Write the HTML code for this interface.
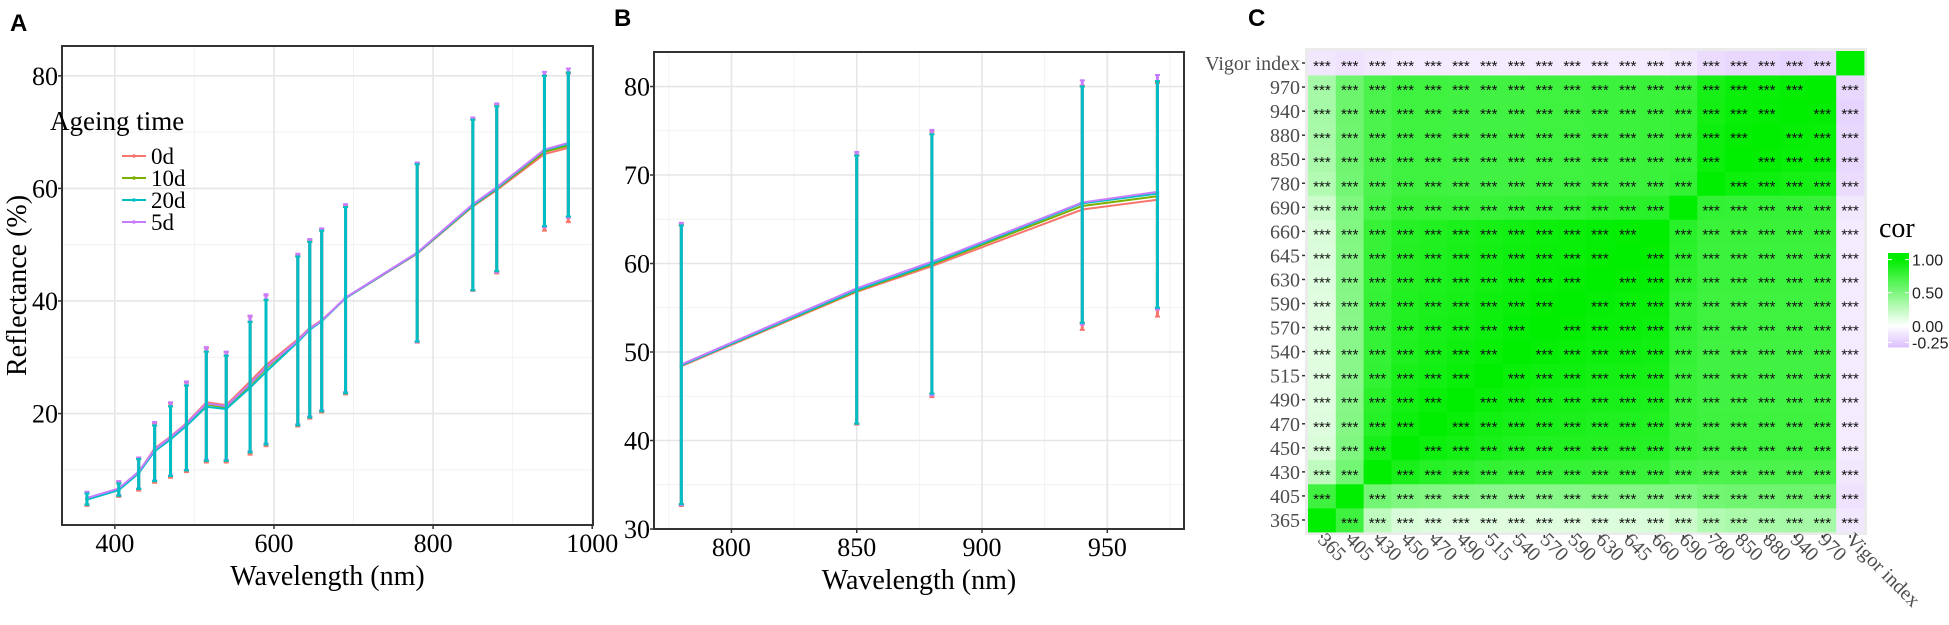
<!DOCTYPE html>
<html><head><meta charset="utf-8"><style>
body{margin:0;background:#fff;}
svg{display:block;font-family:"Liberation Serif",serif;}
</style></head><body>
<svg id="svg" width="1949" height="625" viewBox="0 0 1949 625" xmlns="http://www.w3.org/2000/svg">
<text x="10" y="31" font-family="Liberation Sans,sans-serif" font-weight="bold" font-size="24">A</text>
<text x="614" y="26" font-family="Liberation Sans,sans-serif" font-weight="bold" font-size="24">B</text>
<text x="1248" y="26" font-family="Liberation Sans,sans-serif" font-weight="bold" font-size="24">C</text>
<g id="pa"></g>
<g id="pb"></g>
<g id="pc"></g>
</svg>
<script>
const wavelengths=[365,405,430,450,470,490,515,540,570,590,630,645,660,690,780,850,880,940,970];
const seriesNames=["0d","10d","20d","5d"];
const mean0d =[4.9,6.6,9.6,13.8,15.9,18.3,22.0,21.5,25.7,28.6,33.2,35.2,36.6,40.5,48.4,56.8,59.7,66.1,67.2];
const mean10d=[4.8,6.5,9.5,13.5,15.6,18.0,21.6,21.1,25.1,28.0,32.9,35.0,36.4,40.5,48.5,56.9,59.9,66.5,67.6];
const mean20d=[4.7,6.4,9.4,13.3,15.4,17.8,21.2,20.8,24.6,27.4,32.7,34.9,36.4,40.5,48.5,57.0,60.0,66.8,67.9];
const mean5d =[5.0,6.7,9.7,13.6,15.8,18.2,21.8,21.3,25.3,28.2,33.0,35.1,36.5,40.6,48.6,57.2,60.2,66.9,68.1];
const upper20d=[5.8,7.6,11.9,17.9,21.3,25.0,31.0,30.3,36.3,40.2,47.9,50.5,52.5,56.7,64.3,72.2,74.6,80.0,80.6];
const lower20d=[3.8,5.4,6.6,8.0,8.9,9.9,11.6,11.6,13.1,14.5,17.9,19.3,20.4,23.6,32.8,41.9,45.3,53.3,55.0];
const upper0d=[6.0,7.9,12.1,18.3,21.8,25.5,31.6,30.9,37.2,41.0,48.2,50.8,52.7,56.9,64.4,72.3,74.9,80.1,80.4];
const lower0d=[3.6,5.2,6.3,7.7,8.6,9.6,11.3,11.3,12.7,14.2,17.7,19.1,20.2,23.4,32.6,41.8,44.9,52.5,54.0];
const upper5d=[6.1,8.0,12.2,18.5,22.0,25.7,31.8,31.0,37.4,41.2,48.4,51.0,52.9,57.2,64.6,72.6,75.1,80.7,81.3];
const lower5d=[3.9,5.5,6.7,8.1,9.0,10.0,11.8,11.8,13.3,14.7,18.1,19.5,20.6,23.8,32.7,41.9,45.1,53.1,54.8];
const axisATicksX=[400,600,800,1000];
const axisATicksY=[20,40,60,80];
const axisBTicksX=[800,850,900,950];
const axisBTicksY=[30,40,50,60,70,80];
const corLabels=["365","405","430","450","470","490","515","540","570","590","630","645","660","690","780","850","880","940","970","Vigor index"];
const cor365=[1,.75,.25,.15,.13,.12,.12,.12,.12,.12,.13,.14,.15,.2,.3,.33,.34,.35,.35,-.12];
const cor405=[.75,1,.55,.5,.48,.47,.46,.46,.46,.47,.48,.48,.49,.5,.55,.56,.56,.57,.57,-.15];
const cor430=[.25,.55,1,.9,.85,.83,.8,.79,.79,.79,.78,.78,.78,.72,.7,.7,.7,.7,.7,-.12];
const cor450=[.15,.5,.9,1,.95,.92,.9,.88,.87,.87,.86,.86,.85,.78,.75,.75,.75,.75,.75,-.1];
const cor470=[.13,.48,.85,.95,1,.96,.93,.91,.9,.89,.88,.88,.87,.78,.75,.75,.75,.75,.75,-.1];
const cor490=[.12,.47,.83,.92,.96,1,.96,.94,.92,.91,.9,.9,.89,.78,.74,.74,.74,.74,.74,-.1];
const cor515=[.12,.46,.8,.9,.93,.96,1,.97,.95,.94,.92,.92,.91,.78,.74,.74,.74,.74,.74,-.1];
const cor540=[.12,.46,.79,.88,.91,.94,.97,1,.98,.96,.95,.94,.93,.79,.74,.74,.74,.74,.74,-.1];
const cor570=[.12,.46,.79,.87,.9,.92,.95,.98,1,.99,.97,.96,.95,.8,.75,.75,.75,.75,.75,-.1];
const cor590=[.12,.47,.79,.87,.89,.91,.94,.96,.99,1,.98,.97,.96,.8,.75,.75,.75,.75,.75,-.1];
const cor630=[.13,.48,.78,.86,.88,.9,.92,.95,.97,.98,1,.99,.98,.82,.76,.76,.76,.76,.76,-.1];
const cor645=[.14,.48,.78,.86,.88,.9,.92,.94,.96,.97,.99,1,.99,.83,.76,.76,.76,.76,.76,-.1];
const cor660=[.15,.49,.78,.85,.87,.89,.91,.93,.95,.96,.98,.99,1,.84,.77,.77,.77,.77,.77,-.1];
const cor690=[.2,.5,.72,.78,.78,.78,.78,.79,.8,.8,.82,.83,.84,1,.8,.79,.79,.79,.78,-.12];
const cor780=[.3,.55,.7,.75,.75,.74,.74,.74,.75,.75,.76,.76,.77,.8,1,.95,.94,.92,.91,-.18];
const cor850=[.33,.56,.7,.75,.75,.74,.74,.74,.75,.75,.76,.76,.77,.79,.95,1,.99,.97,.96,-.2];
const cor880=[.34,.56,.7,.75,.75,.74,.74,.74,.75,.75,.76,.76,.77,.79,.94,.99,1,.98,.97,-.2];
const cor940=[.35,.57,.7,.75,.75,.74,.74,.74,.75,.75,.76,.76,.77,.79,.92,.97,.98,1,.99,-.22];
const cor970=[.35,.57,.7,.75,.75,.74,.74,.74,.75,.75,.76,.76,.77,.78,.91,.96,.97,.99,1,-.2];
const corVigor=[-.12,-.15,-.12,-.1,-.1,-.1,-.1,-.1,-.1,-.1,-.1,-.1,-.1,-.12,-.18,-.2,-.2,-.22,-.2,1];
const legendTicks=[1.00,0.50,0.00,-0.25];

const NS="http://www.w3.org/2000/svg";
function mk(parent,tag,attrs,txt){const e=document.createElementNS(NS,tag);for(const k in attrs)e.setAttribute(k,attrs[k]);if(txt!==undefined)e.textContent=txt;parent.appendChild(e);return e;}
const colors={"0d":"#F8766D","10d":"#7CAE00","20d":"#00BFC4","5d":"#C77CFF"};
const means={"0d":mean0d,"10d":mean10d,"20d":mean20d,"5d":mean5d};
const ups={"0d":upper0d,"10d":upper20d,"20d":upper20d,"5d":upper5d};
const lows={"0d":lower0d,"10d":lower20d,"20d":lower20d,"5d":lower5d};

function linePanel(g,box,xd,yd,xt,xminor,yt,yminor,filter,yTitle,prefix){
  const sx=v=>box.l+(v-xd[0])/(xd[1]-xd[0])*(box.r-box.l);
  const sy=v=>box.b-(v-yd[0])/(yd[1]-yd[0])*(box.b-box.t);
  const bg=mk(g,'rect',{x:box.l,y:box.t,width:box.r-box.l,height:box.b-box.t,fill:'#fff'});
  
  
  xminor.forEach(v=>mk(g,'line',{x1:sx(v),x2:sx(v),y1:box.t,y2:box.b,stroke:'#f2f2f2','stroke-width':1}));
  yminor.forEach(v=>mk(g,'line',{y1:sy(v),y2:sy(v),x1:box.l,x2:box.r,stroke:'#f2f2f2','stroke-width':1}));
  xt.forEach(v=>{
    mk(g,'line',{x1:sx(v),x2:sx(v),y1:box.t,y2:box.b,stroke:'#e6e6e6','stroke-width':1.6});
    mk(g,'line',{x1:sx(v),x2:sx(v),y1:box.b,y2:box.b+4,stroke:'#333','stroke-width':1.5});
    const t=mk(g,'text',{x:sx(v),y:box.b+27,'font-size':26,'text-anchor':'middle',fill:'#000'},String(v));
    
    
  });
  yt.forEach(v=>{
    mk(g,'line',{y1:sy(v),y2:sy(v),x1:box.l,x2:box.r,stroke:'#e6e6e6','stroke-width':1.6});
    mk(g,'line',{y1:sy(v),y2:sy(v),x1:box.l-4,x2:box.l,stroke:'#333','stroke-width':1.5});
    const t=mk(g,'text',{x:box.l-4,y:sy(v)+9,'font-size':26,'text-anchor':'end',fill:'#000'},String(v));
    
    
  });
  const idx=wavelengths.map((w,i)=>i).filter(i=>filter(wavelengths[i]));
  ["0d","10d","20d","5d"].forEach(s=>{
    const pts=idx.map(i=>sx(wavelengths[i])+','+sy(means[s][i])).join(' ');
    const pl=mk(g,'polyline',{points:pts,fill:'none',stroke:colors[s],'stroke-width':2});
    
    
  });
  ["0d","10d","5d","20d"].forEach(s=>{
    idx.forEach(i=>{
      const x=sx(wavelengths[i]);
      const eb=mk(g,'line',{x1:x,x2:x,y1:sy(ups[s][i]),y2:sy(lows[s][i]),stroke:colors[s],'stroke-width':3});
      
      
      mk(g,'line',{x1:x-2.5,x2:x+2.5,y1:sy(ups[s][i]),y2:sy(ups[s][i]),stroke:colors[s],'stroke-width':2});
      mk(g,'line',{x1:x-2.5,x2:x+2.5,y1:sy(lows[s][i]),y2:sy(lows[s][i]),stroke:colors[s],'stroke-width':2});
      mk(g,'circle',{cx:x,cy:sy(means[s][i]),r:1.8,fill:colors[s]});
    });
  });
  const fr=mk(g,'rect',{x:box.l,y:box.t,width:box.r-box.l,height:box.b-box.t,fill:'none',stroke:'#333','stroke-width':2});
  
  
  const xt2=mk(g,'text',{x:(box.l+box.r)/2,y:box.b+60,'font-size':28,'text-anchor':'middle'},'Wavelength (nm)');
  
  
  if(yTitle){
    const yt2=mk(g,'text',{x:0,y:0,'font-size':28,'text-anchor':'middle',transform:`translate(26,${(box.t+box.b)/2}) rotate(-90)`},yTitle);
    
    
  }
}
const pa=document.getElementById('pa');
linePanel(pa,{l:62,r:593,t:46,b:525},[333.6,1001],[0.2,85.3],axisATicksX,[500,700,900],axisATicksY,[10,30,50,70],()=>true,'Reflectance (%)','panel-a');
const lg=mk(pa,'g',{});


mk(lg,'text',{x:50,y:130,'font-size':27},'Ageing time');
seriesNames.forEach((s,i)=>{
  const y=156+i*22;
  const en=mk(lg,'g',{});
  
  
  mk(en,'line',{x1:122,x2:146,y1:y,y2:y,stroke:colors[s],'stroke-width':2});
  mk(en,'circle',{cx:134,cy:y,r:1.8,fill:colors[s]});
  mk(en,'text',{x:151,y:y+8,'font-size':23},s);
});
const pb=document.getElementById('pb');
linePanel(pb,{l:654,r:1184,t:52,b:529},[769.1,980.6],[30,83.9],axisBTicksX,[775,825,875,925,975],axisBTicksY,[35,45,55,65,75],w=>w>=780,null,'panel-b');

// heatmap
const pc=document.getElementById('pc');
const corRows=[cor365,cor405,cor430,cor450,cor470,cor490,cor515,cor540,cor570,cor590,cor630,cor645,cor660,cor690,cor780,cor850,cor880,cor940,cor970,corVigor];
const hm={l:1308,t:51,cw:27.8,ch:24.05};
const n=corLabels.length;
function colorOf(v){
  if(v>=0){const r=Math.round(255*(1-v)),g=Math.round(255-17*v),b=Math.round(255*(1-v));return `rgb(${r},${g},${b})`;}
  const t=Math.min(1,-v/0.32);return `rgb(${Math.round(255-35*t)},${Math.round(255-62*t)},${Math.round(255-2*t)})`;
}
const hbg=mk(pc,'rect',{x:hm.l-3,y:hm.t-3,width:hm.cw*n+6,height:hm.ch*n+6,fill:'#ebebeb'});


const cy=i=>hm.t+(n-1-i)*hm.ch;
const cx=j=>hm.l+j*hm.cw;
for(let i=0;i<n;i++){
  for(let j=0;j<n;j++){
    const v=corRows[i][j];
    const c=mk(pc,'rect',{x:cx(j),y:cy(i),width:hm.cw+0.4,height:hm.ch+0.4,fill:colorOf(v)});
    
    
    if(i!==j){
      const st=mk(pc,'text',{x:cx(j)+hm.cw/2,y:cy(i)+hm.ch/2+8,'font-size':15,'text-anchor':'middle','font-family':'Liberation Sans,sans-serif',fill:'#111'},'***');
      
      
    }
  }
}
corLabels.forEach((lab,i)=>{
  const y=cy(i)+hm.ch/2;
  mk(pc,'line',{x1:hm.l-6,x2:hm.l-3,y1:y,y2:y,stroke:'#333','stroke-width':1.5});
  const t=mk(pc,'text',{x:hm.l-8,y:y+7,'font-size':20,'text-anchor':'end',fill:'#4d4d4d'},lab);
  
  
  const x=cx(i)+hm.cw/2, yb=hm.t+n*hm.ch;
  mk(pc,'line',{x1:x,x2:x,y1:yb+3,y2:yb+6,stroke:'#333','stroke-width':1.5});
  const t2=mk(pc,'text',{x:0,y:0,'font-size':20,fill:'#4d4d4d',transform:`translate(${x-5},${yb+9}) rotate(45)`},lab);
  
  
});
const lgc=mk(pc,'g',{});


mk(lgc,'text',{x:1879,y:237,'font-size':28},'cor');
const barTop=253,barBot=347,vTop=1.1,vBot=-0.32;
const ly=v=>barTop+(vTop-v)/(vTop-vBot)*(barBot-barTop);
for(let k=0;k<60;k++){
  const v=vTop-(k+0.5)/60*(vTop-vBot);
  mk(lgc,'rect',{x:1888,y:barTop+k*(barBot-barTop)/60,width:21,height:(barBot-barTop)/60+0.5,fill:colorOf(v)});
}
legendTicks.forEach(v=>{
  mk(lgc,'line',{x1:1888,x2:1892,y1:ly(v),y2:ly(v),stroke:'#fff','stroke-width':1});
  mk(lgc,'line',{x1:1905,x2:1909,y1:ly(v),y2:ly(v),stroke:'#fff','stroke-width':1});
  const t=mk(lgc,'text',{x:1912,y:ly(v)+6,'font-size':16,'font-family':'Liberation Sans,sans-serif',fill:'#222'},v.toFixed(2));
  
  
});
</script>
</body></html>
